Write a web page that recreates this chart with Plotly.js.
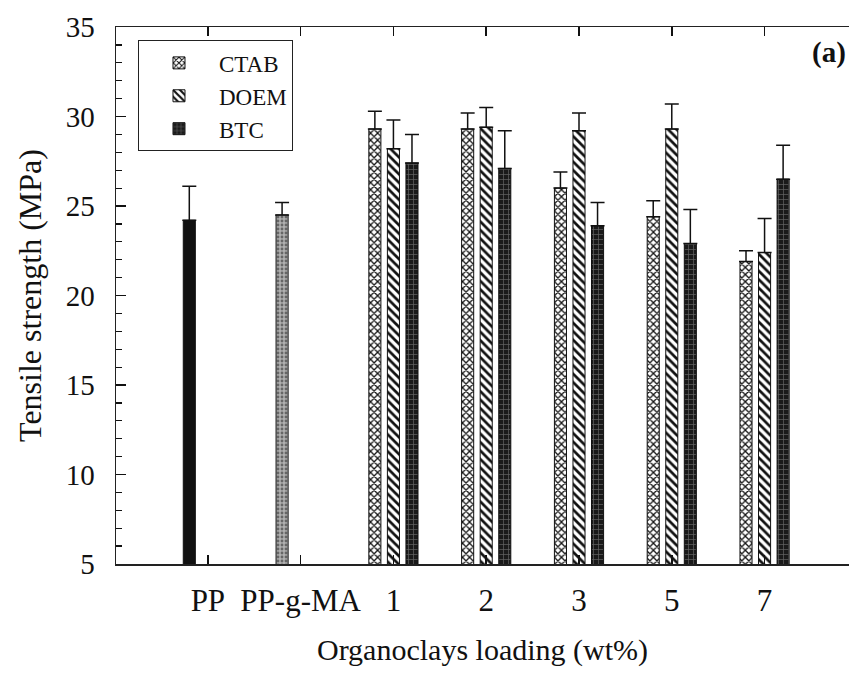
<!DOCTYPE html>
<html>
<head>
<meta charset="utf-8">
<script src="https://cdn.plot.ly/plotly-3.0.1.min.js"></script>
<style>html,body{margin:0;padding:0;background:#fff}</style>
</head>
<body>
<div id="chart" style="width:849px;height:674px"></div>
<script>
// Tick labels (x positions 0..6)
const tickLabels = ["PP", "PP-g-MA", "1", "2", "3", "5", "7"];
const tickPos = [0, 1, 2, 3, 4, 5, 6];

// Neat polymers
const ppX = [0];
const ppVal = [24.2];
const ppErr = [1.9];
const ppgmaX = [1];
const ppgmaVal = [24.5];
const ppgmaErr = [0.7];

// Organoclay loadings 1,2,3,5,7 wt% (positions 2..6)
const loadX = [2, 3, 4, 5, 6];
const ctabVal = [29.3, 29.3, 26.0, 24.4, 21.9];
const ctabErr = [1.0, 0.9, 0.9, 0.9, 0.6];
const doemVal = [28.2, 29.4, 29.2, 29.3, 22.4];
const doemErr = [1.6, 1.1, 1.0, 1.4, 1.9];
const btcVal = [27.4, 27.1, 23.9, 22.9, 26.5];
const btcErr = [1.6, 2.1, 1.3, 1.9, 1.9];

const W = 0.13;
function errs(a){ return {type:'data', symmetric:false, array:a, arrayminus:a.map(()=>0), color:'#111', thickness:1.5, width:7}; }
const line = {color:'#111', width:1};

const traces = [
  {type:'bar', x:ppX, y:ppVal, width:W, offset:-0.2-W/2, showlegend:false, name:'PP',
   marker:{color:'#111', line:line}, error_y:errs(ppErr)},
  {type:'bar', x:ppgmaX, y:ppgmaVal, width:W, offset:-0.2-W/2, showlegend:false, name:'PP-g-MA',
   marker:{color:'#aaa', line:line, pattern:{shape:'.', bgcolor:'#b0b0b0', fgcolor:'#666', size:4, solidity:0.4}}, error_y:errs(ppgmaErr)},
  {type:'bar', x:loadX, y:ctabVal, width:W, offset:-0.2-W/2, name:'CTAB',
   marker:{color:'#fff', line:line, pattern:{shape:'x', bgcolor:'#fff', fgcolor:'#111', size:5, solidity:0.45}}, error_y:errs(ctabErr)},
  {type:'bar', x:loadX, y:doemVal, width:W, offset:-W/2, name:'DOEM',
   marker:{color:'#fff', line:line, pattern:{shape:'\\', bgcolor:'#fff', fgcolor:'#111', size:6, solidity:0.45}}, error_y:errs(doemErr)},
  {type:'bar', x:loadX, y:btcVal, width:W, offset:0.2-W/2, name:'BTC',
   marker:{color:'#222', line:line, pattern:{shape:'+', bgcolor:'#1a1a1a', fgcolor:'#666', size:5, solidity:0.25}}, error_y:errs(btcErr)}
];

const FAM = 'Liberation Serif, Times New Roman, Times, serif';
const font = {family:FAM, color:'#111'};

const layout = {
  width:849, height:674,
  margin:{l:116, r:0, t:27, b:110},
  paper_bgcolor:'#fff', plot_bgcolor:'#fff',
  barmode:'overlay',
  font:font,
  showlegend:true,
  legend:{x:0.03, y:0.975, xanchor:'left', yanchor:'top', bordercolor:'#222', borderwidth:1,
          bgcolor:'#fff', font:{family:FAM, size:23, color:'#111'}, itemwidth:70,
          traceorder:'normal'},
  xaxis:{range:[-0.99, 6.91], tickvals:tickPos, ticktext:tickLabels, ticks:'inside', ticklen:9, tickwidth:1.5,
         tickcolor:'#111', showline:true, linecolor:'#222', linewidth:1.5, mirror:'allticks',
         showgrid:false, zeroline:false, tickfont:{family:FAM, size:31, color:'#111'}, ticklabelstandoff:8,
         title:{text:'Organoclays loading (wt%)', font:{family:FAM, size:30, color:'#111'}, standoff:22}},
  yaxis:{range:[5,35], dtick:5, tick0:5, ticks:'inside', ticklen:10, tickwidth:1.5, tickcolor:'#111', showline:true,
         linecolor:'#222', linewidth:1.5, showgrid:false, zeroline:false,
         minor:{dtick:1, ticks:'inside', ticklen:6, tickwidth:1.2, tickcolor:'#111'},
         tickfont:{family:FAM, size:29, color:'#111'}, ticklabelstandoff:14,
         title:{text:'Tensile strength (MPa)', font:{family:FAM, size:32, color:'#111'}, standoff:14}},
  annotations:[{text:'<b>(a)</b>', xref:'paper', yref:'paper', x:0.998, y:0.953, xanchor:'right', yanchor:'middle',
                showarrow:false, font:{family:FAM, size:29, color:'#111'}}]
};

Plotly.newPlot('chart', traces, layout, {displayModeBar:false, staticPlot:true});
</script>
</body>
</html>
